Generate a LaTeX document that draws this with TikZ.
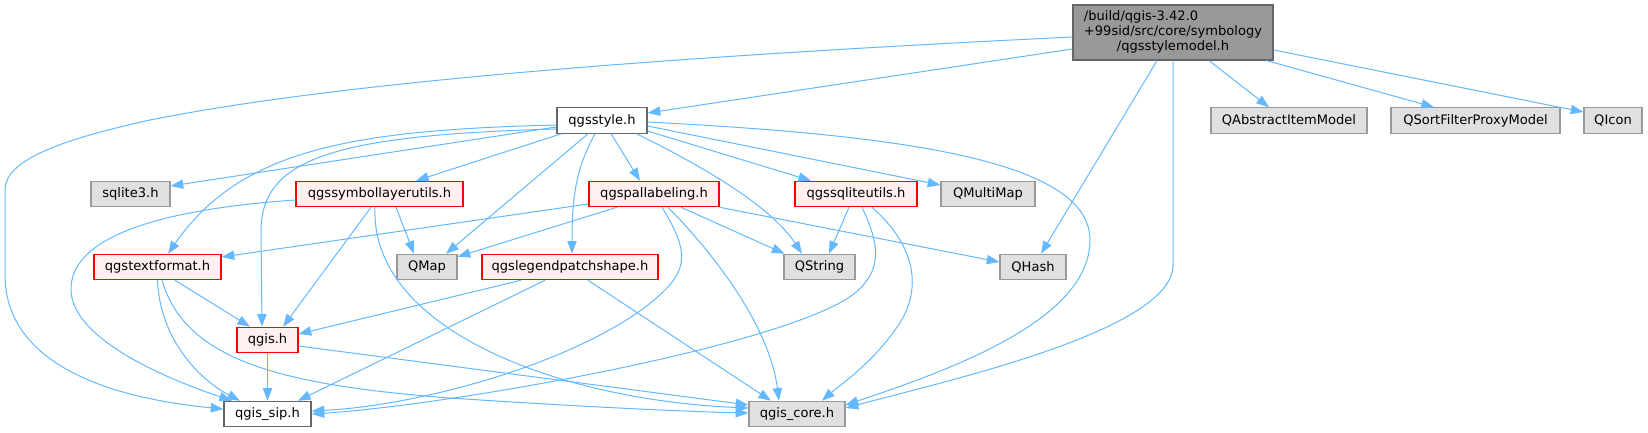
\documentclass[tikz,border=0pt]{standalone}
\usepackage{fontspec}
\setmainfont{DejaVu Sans}
\usetikzlibrary{arrows.meta,calc}
\definecolor{edgec}{HTML}{63B8FF}
\definecolor{gfill}{HTML}{E0E0E0}
\definecolor{gborder}{HTML}{999999}
\definecolor{rfill}{HTML}{FFF0F0}
\definecolor{rborder}{HTML}{FF0000}
\definecolor{wborder}{HTML}{666666}
\definecolor{rootfill}{HTML}{999999}
\begin{document}
\begin{tikzpicture}[x=0.75pt,y=-0.75pt,
  box/.style={rectangle, minimum height=19pt, inner sep=0pt, font=\fontsize{9.8}{11.5}\selectfont, line width=0.9pt},
  gnode/.style={box, fill=gfill, draw=gborder},
  rnode/.style={box, fill=rfill, draw=rborder},
  wnode/.style={box, fill=white, draw=wborder},
  e/.style={draw=edgec, line width=0.75pt, -{Triangle[length=9.5pt,width=7pt]}},
]
\useasboundingbox (0,0) rectangle (1648,432);

% nodes
\node[box, fill=rootfill, draw=wborder, minimum width=150pt, minimum height=41.25pt] (root) at (1173,32.5)
  {\begin{tabular}{@{}l@{}}/build/qgis-3.42.0\\+99sid/src/core/symbology\\\multicolumn{1}{@{}c@{}}{/qgsstylemodel.h}\end{tabular}};
\node[wnode, minimum width=67.5pt] (style) at (602,120.5) {qgsstyle.h};
\node[gnode, minimum width=117pt] (qaim) at (1289,120.5) {QAbstractItemModel};
\node[gnode, minimum width=126.75pt] (qsfpm) at (1475.5,120.5) {QSortFilterProxyModel};
\node[gnode, minimum width=43.5pt] (qicon) at (1613,120.5) {QIcon};
\node[gnode, minimum width=59.25pt] (sqlite) at (130.5,194) {sqlite3.h};
\node[rnode, minimum width=125.25pt] (symb) at (379.5,194) {qgssymbollayerutils.h};
\node[rnode, minimum width=97.5pt] (pal) at (654,194) {qgspallabeling.h};
\node[rnode, minimum width=91.5pt] (sqlu) at (856,194) {qgssqliteutils.h};
\node[gnode, minimum width=70.5pt] (qmm) at (988,194) {QMultiMap};
\node[rnode, minimum width=95.25pt] (textf) at (157.5,267) {qgstextformat.h};
\node[gnode, minimum width=45pt] (qmap) at (427,267) {QMap};
\node[rnode, minimum width=132pt] (legend) at (570,267) {qgslegendpatchshape.h};
\node[gnode, minimum width=53.25pt] (qstring) at (819.5,267) {QString};
\node[gnode, minimum width=49.5pt] (qhash) at (1033,267) {QHash};
\node[rnode, minimum width=45.75pt] (qgis) at (267.5,340) {qgis.h};
\node[wnode, minimum width=65.25pt] (sip) at (267.5,414) {qgis\_sip.h};
\node[gnode, minimum width=72pt] (core) at (797,414) {qgis\_core.h};

% root edges
\draw[e] ($(root.west)+(0,4.5)$) .. controls (700,55) and (350,80) .. (150,120)
  .. controls (60,140) and (5,160) .. (5,190) -- (5,275)
  .. controls (5,350) and (80,395) .. ($(sip.west)+(0,-5)$);
\draw[e] ($(root.west)+(0,16.5)$) -- ($(style.east)+(0,-7.5)$);
\draw[e] ($(root.south)+(-16,0)$) -- ($(qhash.north)+(8,0)$);
\draw[e] (root.south) -- (1173,265) .. controls (1173,330) and (950,380) .. ($(core.east)+(0,-6)$);
\draw[e] ($(root.south)+(36,0)$) -- ($(qaim.north)+(-20,0)$);
\draw[e] ($(root.south east)+(-7,0)$) -- ($(qsfpm.north)+(-41.5,0)$);
\draw[e] ($(root.east)+(0,17.5)$) -- ($(qicon.west)+(0,-8.5)$);

% qgsstyle.h edges
\draw[e] ($(style.west)+(0,6.5)$) -- ($(sqlite.east)+(0,-8)$);
\draw[e] ($(style.south west)+(5,0)$) -- ($(symb.north)+(36.5,0)$);
\draw[e] ($(style.west)+(0,4.5)$) .. controls (350,130) and (240,150) .. ($(textf.north)+(10.5,0)$);
\draw[e] ($(style.west)+(0,8.5)$) .. controls (330,135) and (262,160) .. (261,230) -- ($(qgis.north)+(-5.5,0)$);
\draw[e] ($(style.south)+(-14,0)$) -- ($(qmap.north)+(19,0)$);
\draw[e] ($(style.south)+(-7,0)$) .. controls (575,170) and (572,200) .. ($(legend.north)+(2,0)$);
\draw[e] ($(style.south)+(9,0)$) -- ($(pal.north)+(-14,0)$);
\draw[e] ($(style.south east)+(-11,0)$) .. controls (700,165) and (770,205) .. ($(qstring.north)+(-17.5,0)$);
\draw[e] ($(style.east)+(0,10.5)$) -- ($(sqlu.north)+(-45,0)$);
\draw[e] ($(style.east)+(0,5.5)$) -- ($(qmm.west)+(0,-9)$);
\draw[e] ($(style.east)+(0,1.5)$) .. controls (900,135) and (1090,160) .. (1090,240)
  .. controls (1090,320) and (950,370) .. ($(core.east)+(0,-9)$);

% qgssymbollayerutils.h edges
\draw[e] ($(symb.south)+(16.5,0)$) -- ($(qmap.north)+(-13,0)$);
\draw[e] ($(symb.south)+(-8.5,0)$) -- ($(qgis.north)+(15.5,0)$);
\draw[e] ($(symb.south)+(-4.5,0)$) .. controls (370,330) and (560,400) .. ($(core.west)+(0,-6)$);
\draw[e] ($(symb.west)+(0,6)$) .. controls (150,210) and (70,240) .. (71,290)
  .. controls (72,340) and (170,380) .. ($(sip.north)+(-35.5,0)$);

% qgstextformat.h edges
\draw[e] ($(textf.south)+(17.5,0)$) -- ($(qgis.north)+(-17.5,0)$);
\draw[e] (textf.south) .. controls (160,340) and (200,380) .. ($(sip.north)+(-27.5,0)$);
\draw[e] ($(textf.south)+(4.5,0)$) .. controls (185,360) and (280,385) .. (450,398)
  .. controls (600,408) and (700,412) .. ($(core.west)+(0,-1)$);

% qgis.h edges
\draw[e] (qgis.south) -- (sip.north);
\draw[e] ($(qgis.east)+(0,6)$) -- ($(core.west)+(0,-9)$);

% qgslegendpatchshape.h edges
\draw[e] ($(legend.south)+(-49,0)$) -- ($(qgis.east)+(0,-6)$);
\draw[e] ($(legend.south)+(-25,0)$) -- ($(sip.north)+(30.5,0)$);
\draw[e] ($(legend.south)+(18,0)$) -- ($(core.north)+(-26,0)$);

% qgspallabeling.h edges
\draw[e] ($(pal.west)+(0,10)$) -- ($(textf.east)+(0,-10)$);
\draw[e] ($(pal.south)+(-37,0)$) -- ($(qmap.north east)+(0,3)$);
\draw[e] ($(pal.south)+(27,0)$) -- ($(qstring.north)+(-35,0)$);
\draw[e] (pal.south east) -- ($(qhash.west)+(0,-5)$);
\draw[e] ($(pal.south)+(14,0)$) .. controls (720,260) and (770,330) .. ($(core.north)+(-18,0)$);
\draw[e] ($(pal.south)+(8,0)$) .. controls (685,245) and (690,265) .. (665,290)
  .. controls (600,355) and (430,405) .. ($(sip.east)+(0,-3)$);

% qgssqliteutils.h edges
\draw[e] ($(sqlu.south)+(-7,0)$) -- ($(qstring.north)+(9.5,0)$);
\draw[e] ($(sqlu.south)+(16,0)$) .. controls (915,245) and (925,290) .. (895,330)
  .. controls (870,365) and (840,385) .. ($(core.north)+(25,0)$);
\draw[e] ($(sqlu.south)+(6,0)$) .. controls (880,245) and (885,275) .. (845,300)
  .. controls (760,350) and (450,405) .. ($(sip.east)+(0,0)$);
\end{tikzpicture}
\end{document}
